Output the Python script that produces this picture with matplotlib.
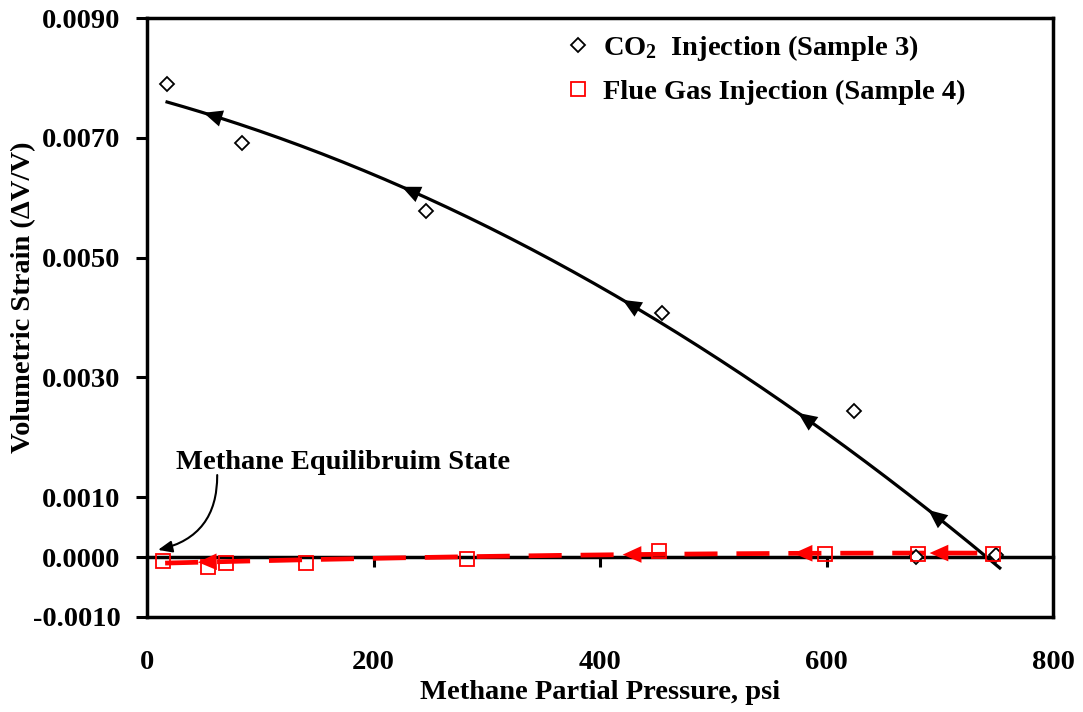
import numpy as np
import matplotlib
matplotlib.use("Agg")
import matplotlib.pyplot as plt

plt.rcParams['font.family'] = ['Liberation Serif', 'DejaVu Serif']
plt.rcParams['font.weight'] = 'bold'
plt.rcParams['mathtext.fontset'] = 'custom'
plt.rcParams['mathtext.rm'] = 'Liberation Serif:bold'
plt.rcParams['mathtext.default'] = 'rm'

# CO2 injection, sample 3
co2_p = [17.7, 83.9, 246, 455, 624, 679, 750]
co2_strain = [0.00790, 0.00691, 0.00578, 0.00407, 0.00244, 0.00000, 0.00003]

# flue gas injection, sample 4
flue_p = [14, 54, 70, 140, 283, 452, 599, 681, 747]
flue_strain = [-0.00007, -0.00017, -0.00010, -0.00010, -0.00003, 0.00010, 0.00005, 0.00005, 0.00005]

# trend lines (2nd order poly, highest power first) and their x span
co2_trend = [-7.11e-9, -5.10e-6, 7.69e-3]
co2_span = [17.7, 753]
flue_trend = [-3.7e-10, 5.1e-7, -1.08e-4]
flue_span = [16, 744]

co2_arrows = [50, 225, 420, 575, 690]
flue_arrows = [45, 420, 571, 691]

xticks = [0, 200, 400, 600, 800]
yticks = [-0.001, 0.0, 0.001, 0.003, 0.005, 0.007, 0.009]

fs = 20.5

fig = plt.figure(figsize=(10.83, 7.12), dpi=100)
ax = fig.add_axes([147/1083, 1 - 617/712, 906/1083, 599/712])


def add_arrows(coef, xs, color):
    f = np.poly1d(coef)
    for x in xs:
        ax.annotate('', xy=(x, f(x)), xytext=(x + 25, f(x + 25)),
                    arrowprops=dict(arrowstyle='-|>,head_length=0.9,head_width=0.4',
                                    color=color, lw=0, shrinkA=0, shrinkB=0,
                                    mutation_scale=15),
                    zorder=5)


# trend lines
xx = np.linspace(co2_span[0], co2_span[1], 200)
ax.plot(xx, np.polyval(co2_trend, xx), color='black', lw=2.3, zorder=3)
add_arrows(co2_trend, co2_arrows, 'black')

xx = np.linspace(flue_span[0], flue_span[1], 200)
ax.plot(xx, np.polyval(flue_trend, xx), color='red', lw=3.4,
        dashes=(7, 4), zorder=3)
add_arrows(flue_trend, flue_arrows, 'red')

# data points
ax.plot(co2_p, co2_strain, ls='none', marker='D', ms=7, mfc='white',
        mec='black', mew=1.3, zorder=4, label='CO$_2$  Injection (Sample 3)')
ax.plot(flue_p, flue_strain, ls='none', marker='s', ms=9.5, mfc='none',
        mec='red', mew=1.3, zorder=4, label='Flue Gas Injection (Sample 4)')

ax.set_xlim(0, 800)
ax.set_ylim(-0.001, 0.009)

ax.set_xticks(xticks)
ax.set_xticklabels([str(t) for t in xticks])
ax.tick_params(axis='x', length=0, pad=24, labelsize=fs)
ax.set_yticks(yticks)
ax.set_yticklabels(['%.4f' % t for t in yticks])
ax.tick_params(axis='y', direction='out', length=8, width=2.2, pad=11, labelsize=fs)

for s in ax.spines.values():
    s.set_linewidth(2.5)

# horizontal axis crossing at zero
sec = ax.secondary_xaxis(0.1)
sec.set_xticks([200, 400, 600])
sec.tick_params(axis='x', direction='out', length=7, width=2.2, labelbottom=False)
sec.spines['bottom'].set_linewidth(2.5)

ax.set_xlabel('Methane Partial Pressure, psi', fontsize=fs, fontweight='bold')
ax.xaxis.set_label_coords(0.5, -0.105)
ax.set_ylabel('Volumetric Strain (\u0394V/V)', fontsize=fs, fontweight='bold')
ax.yaxis.set_label_coords(-0.122, 0.533)

leg = ax.legend(loc='upper right', bbox_to_anchor=(0.925, 1.008), frameon=False,
                fontsize=fs, handlelength=0.8, handletextpad=0.45,
                labelspacing=0.55, borderpad=0.2)

ax.text(26, 0.00158, 'Methane Equilibruim State', fontsize=fs,
        fontweight='bold', va='center', ha='left')
ax.annotate('', xy=(9.7, 0.00012), xytext=(62, 0.00137),
            arrowprops=dict(arrowstyle='-|>,head_length=0.6,head_width=0.25',
                            color='black', lw=1.5, shrinkA=0, shrinkB=0,
                            connectionstyle='arc3,rad=-0.4', mutation_scale=14))

fig.savefig('out.png', dpi=100)
